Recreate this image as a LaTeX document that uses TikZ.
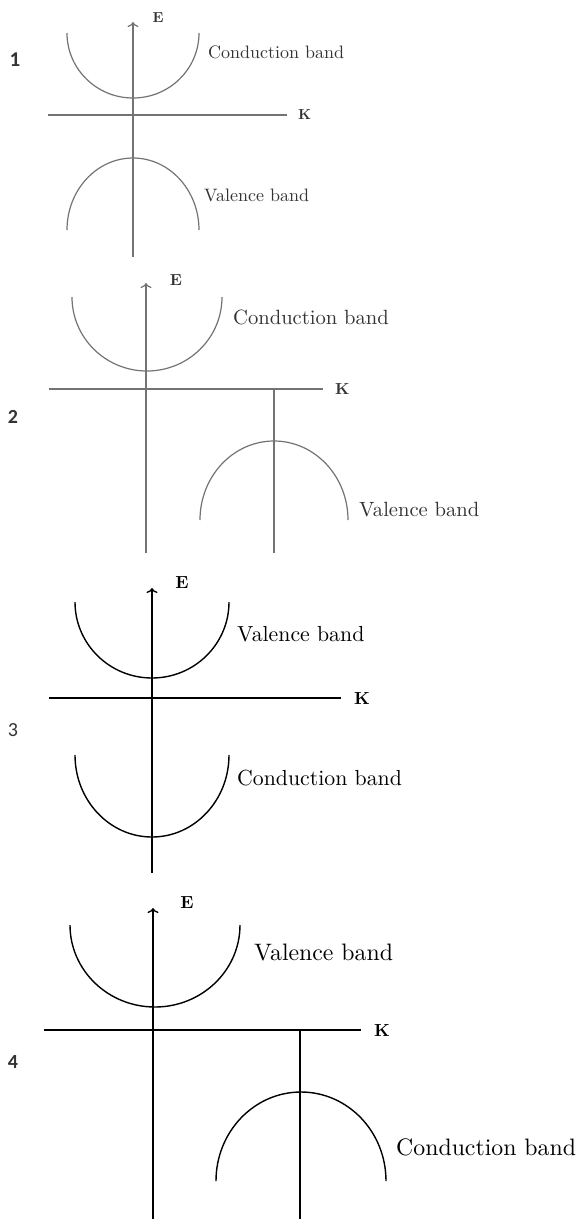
\documentclass[tikz,border=0pt]{standalone}
\usepackage{fontspec}
\setmainfont{lmroman10-regular.otf}[BoldFont=lmroman10-bold.otf]
\newfontfamily\numfont{Carlito}
\usetikzlibrary{arrows.meta, positioning}
\newcommand{\fsz}[1]{\fontsize{#1}{#1}\selectfont}
\tikzset{
  gline/.style   = {draw=black!55, line width=1.2pt},
  bline/.style   = {draw=black, line width=1.4pt},
  eaxis/.style   = {-{To[length=5pt, width=11pt]}},
  axlbl/.style   = {inner sep=0pt, font=\bfseries},
  bandlbl/.style = {inner sep=0pt, anchor=west},
  panelno/.style = {inner sep=0pt, text=black!80}
}

\begin{document}
\begin{tikzpicture}[x=1pt, y=-1pt]
  \useasboundingbox (0,0) rectangle (582,1219);

  % panel 1
  \coordinate (e1bot) at (133,257);
  \coordinate (e1top) at (133,22);
  \coordinate (k1l)   at (48,115);
  \coordinate (k1r)   at (287,115);
  \coordinate (cb1)   at (67,33);
  \coordinate (vb1)   at (67,230);
  \draw[gline, eaxis] (e1bot) -- (e1top);
  \draw[gline] (k1l) -- (k1r);
  \draw[gline] (cb1) arc[start angle=180, end angle=0, x radius=66, y radius=65];
  \draw[gline] (vb1) arc[start angle=180, end angle=360, x radius=66, y radius=72];
  \node[axlbl, font=\bfseries\fsz{14.5}, text=black!80] (e1) at (158,18) {E};
  \node[axlbl, font=\bfseries\fsz{14.5}, text=black!80, right=11pt of k1r] (k1) {K};
  \node[bandlbl, font=\fsz{18}, text=black!80] (cb1lbl) at (208,52) {Conduction band};
  \node[bandlbl, font=\fsz{18}, text=black!80] (vb1lbl) at (204,195) {Valence band};
  \node[panelno, font=\numfont\bfseries\fsz{21}] (n1) at (15,60) {1};

  % panel 2
  \coordinate (e2bot) at (146,553);
  \coordinate (e2top) at (146,283);
  \coordinate (k2l)   at (49,389);
  \coordinate (k2r)   at (323,389);
  \coordinate (v2top) at (274,389);
  \coordinate (v2bot) at (274,553);
  \coordinate (cb2)   at (72,297);
  \coordinate (vb2)   at (200,520);
  \draw[gline, eaxis] (e2bot) -- (e2top);
  \draw[gline] (k2l) -- (k2r);
  \draw[gline] (v2top) -- (v2bot);
  \draw[gline] (cb2) arc[start angle=180, end angle=0, x radius=75, y radius=74];
  \draw[gline] (vb2) arc[start angle=180, end angle=360, x radius=74, y radius=79];
  \node[axlbl, font=\bfseries\fsz{16}, text=black!80] (e2) at (176,280) {E};
  \node[axlbl, font=\bfseries\fsz{16}, text=black!80, right=12pt of k2r] (k2) {K};
  \node[bandlbl, font=\fsz{20.6}, text=black!80] (cb2lbl) at (233,317) {Conduction band};
  \node[bandlbl, font=\fsz{20.6}, text=black!80] (vb2lbl) at (359,510) {Valence band};
  \node[panelno, font=\numfont\bfseries\fsz{20}] (n2) at (13,417) {2};

  % panel 3
  \coordinate (e3bot) at (152,873);
  \coordinate (e3top) at (152,588);
  \coordinate (k3l)   at (49,698);
  \coordinate (k3r)   at (341,698);
  \coordinate (vb3)   at (75,602);
  \coordinate (cb3)   at (75,755);
  \draw[bline, eaxis] (e3bot) -- (e3top);
  \draw[bline] (k3l) -- (k3r);
  \draw[bline] (vb3) arc[start angle=180, end angle=0, x radius=77, y radius=76];
  \draw[bline] (cb3) arc[start angle=180, end angle=0, x radius=77, y radius=82];
  \node[axlbl, font=\bfseries\fsz{17.5}] (e3) at (182,583) {E};
  \node[axlbl, font=\bfseries\fsz{17.5}, right=13pt of k3r] (k3) {K};
  \node[bandlbl, font=\fsz{21.8}] (vb3lbl) at (237,634) {Valence band};
  \node[bandlbl, font=\fsz{21.8}] (cb3lbl) at (237,778) {Conduction band};
  \node[panelno, font=\numfont\fsz{20}] (n3) at (13,730) {3};

  % panel 4
  \coordinate (e4bot) at (153,1219);
  \coordinate (e4top) at (153,908);
  \coordinate (k4l)   at (44,1030);
  \coordinate (k4r)   at (361,1030);
  \coordinate (v4top) at (300,1030);
  \coordinate (v4bot) at (300,1219);
  \coordinate (vb4)   at (70,925);
  \coordinate (cb4)   at (216,1181);
  \draw[bline, eaxis] (e4bot) -- (e4top);
  \draw[bline] (k4l) -- (k4r);
  \draw[bline] (v4top) -- (v4bot);
  \draw[bline] (vb4) arc[start angle=180, end angle=0, x radius=85, y radius=82];
  \draw[bline] (cb4) arc[start angle=180, end angle=360, x radius=85, y radius=89];
  \node[axlbl, font=\bfseries\fsz{17.5}] (e4) at (187,903) {E};
  \node[axlbl, font=\bfseries\fsz{17.5}, right=13pt of k4r] (k4) {K};
  \node[bandlbl, font=\fsz{23.8}] (vb4lbl) at (254,952) {Valence band};
  \node[bandlbl, font=\fsz{23.8}] (cb4lbl) at (396,1147) {Conduction band};
  \node[panelno, font=\numfont\bfseries\fsz{20}] (n4) at (13,1062) {4};
\end{tikzpicture}
\end{document}
